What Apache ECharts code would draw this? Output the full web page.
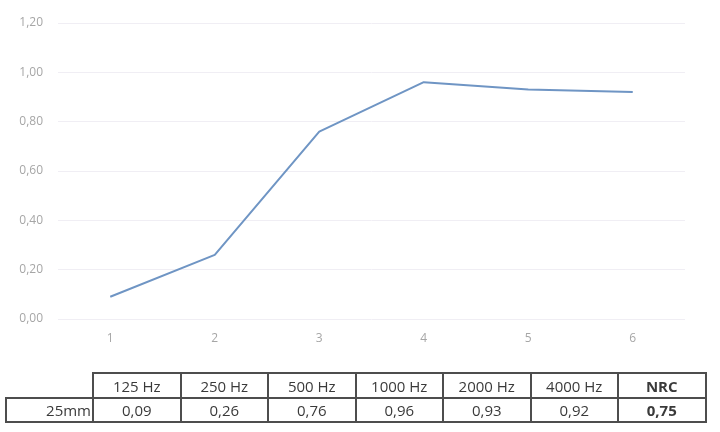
<!DOCTYPE html>
<html><head><meta charset="utf-8">
<script src="https://cdn.jsdelivr.net/npm/echarts@6/dist/echarts.min.js"></script>
<style>
html,body{margin:0;padding:0;background:#fff;}
#chart{position:absolute;left:0;top:0;width:720px;height:432px;}
#tbl{position:absolute;left:5px;top:372px;border-collapse:collapse;table-layout:fixed;font-family:"Open Sans","Liberation Sans",sans-serif;font-size:15px;color:#3a3a3a;}
#tbl td{border:2px solid #4d4d4d;padding:0;text-align:center;width:87.5px;box-sizing:border-box;}
#tbl tr.r1 td{height:25px;}
#tbl tr.r2 td{height:24px;}
#tbl td.lab{width:87px;text-align:right;padding-right:1px;}
#tbl td.empty{border-top:none;border-left:none;}
#tbl td.b{font-weight:bold;}
</style></head>
<body>
<div id="chart"></div>
<table id="tbl"></table>
<script>
var categories = ['1','2','3','4','5','6'];
var values = [0.09, 0.26, 0.76, 0.96, 0.93, 0.92];
var bands = ['125 Hz','250 Hz','500 Hz','1000 Hz','2000 Hz','4000 Hz'];
var rowLabel = '25mm';
var nrcLabel = 'NRC';
var nrcValue = 0.75;

function fmt(v){ return v.toFixed(2).replace('.', ','); }

var chart = echarts.init(document.getElementById('chart'), null, {renderer:'canvas'});
chart.setOption({
  animation:false,
  grid:{left:58, right:35, top:23, bottom:113},
  xAxis:{type:'category', data:categories, boundaryGap:true,
    axisLine:{show:false}, axisTick:{show:false},
    axisLabel:{color:'#a6a6a6', fontSize:12, margin:14, fontFamily:'Open Sans'}},
  yAxis:{type:'value', min:0, max:1.2, interval:0.2,
    axisLabel:{color:'#a6a6a6', fontSize:12, margin:15, fontFamily:'Open Sans', formatter:function(v){return fmt(v);}},
    splitLine:{lineStyle:{color:'#f0eef4', width:1}}},
  series:[{type:'line', data:values, symbol:'none', lineStyle:{color:'#6f95c4', width:2}}]
});

var t = document.getElementById('tbl');
var h = '<tr class="r1"><td class="empty lab"></td>';
bands.forEach(function(b){ h += '<td>'+b+'</td>'; });
h += '<td class="b">'+nrcLabel+'</td></tr><tr class="r2"><td class="lab">'+rowLabel+'</td>';
values.forEach(function(v){ h += '<td>'+fmt(v)+'</td>'; });
h += '<td class="b">'+fmt(nrcValue)+'</td></tr>';
t.innerHTML = h;
</script>
</body></html>
